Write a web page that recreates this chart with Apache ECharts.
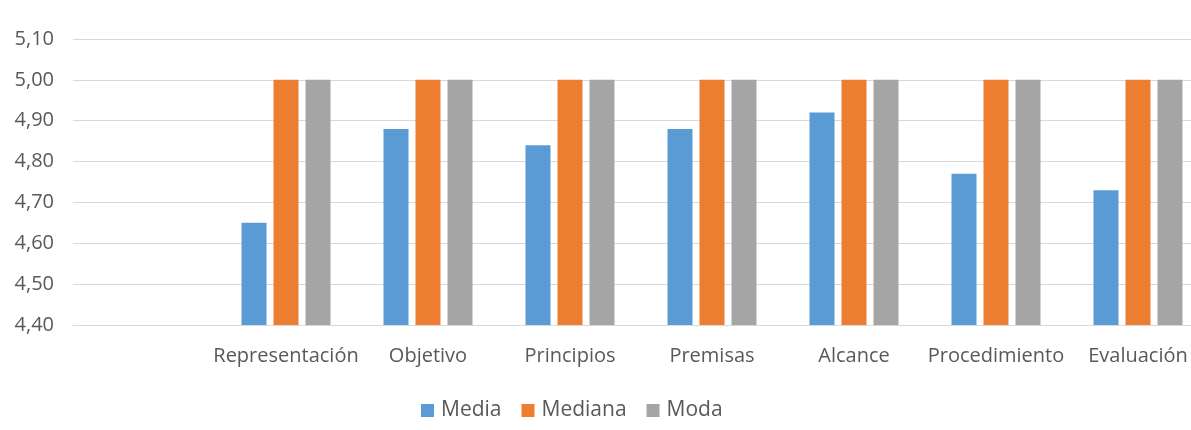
<!DOCTYPE html>
<html>
<head>
<meta charset="utf-8">
<script src="https://cdn.jsdelivr.net/npm/echarts@6/dist/echarts.min.js"></script>
<style>
  html, body { margin: 0; padding: 0; background: #ffffff; overflow: hidden; }
  /* the plot runs a little past the right edge of the window */
  #chart { width: 1212px; height: 430px; }
</style>
</head>
<body>
<div id="chart"></div>
<script>
// Categories (the first slot is left blank on purpose)
const categories = ['', 'Representación', 'Objetivo', 'Principios', 'Premisas', 'Alcance', 'Procedimiento', 'Evaluación'];
const media   = [null, 4.65, 4.88, 4.84, 4.88, 4.92, 4.77, 4.73];
const mediana = [null, 5.00, 5.00, 5.00, 5.00, 5.00, 5.00, 5.00];
const moda    = [null, 5.00, 5.00, 5.00, 5.00, 5.00, 5.00, 5.00];
const seriesNames = ['Media', 'Mediana', 'Moda'];
const colors = ['#5B9BD5', '#ED7D31', '#A5A5A5'];

const FONT = 'Open Sans';
const TEXT = '#595959';

const chart = echarts.init(document.getElementById('chart'), null, { renderer: 'canvas' });

const values = [media, mediana, moda];
chart.setOption({
  animation: false,
  backgroundColor: '#ffffff',
  color: colors,
  textStyle: { fontFamily: FONT },
  grid: { left: 73, top: 39, width: 1136, bottom: 105, containLabel: false },
  legend: {
    left: 416,
    top: 395,
    itemWidth: 13,
    itemHeight: 13,
    itemGap: 20,
    icon: 'rect',
    textStyle: { fontFamily: FONT, fontSize: 21, color: TEXT, padding: [0, 0, 0, 2] },
    data: seriesNames
  },
  xAxis: {
    type: 'category',
    data: categories,
    axisLine: { lineStyle: { color: '#D9D9D9', width: 1 } },
    axisTick: { show: false },
    axisLabel: { fontFamily: FONT, fontSize: 20, color: TEXT, margin: 21, interval: 0 }
  },
  yAxis: {
    type: 'value',
    min: 4.4,
    max: 5.1,
    interval: 0.1,
    axisLine: { show: false },
    axisTick: { show: false },
    splitLine: { lineStyle: { color: '#D9D9D9', width: 1 } },
    axisLabel: {
      fontFamily: FONT, fontSize: 20, color: TEXT, margin: 19,
      formatter: v => v.toFixed(2).replace('.', ',')
    }
  },
  series: seriesNames.map((name, i) => ({
    name,
    type: 'bar',
    data: values[i],
    barWidth: 25,
    barGap: '28%',
    itemStyle: { color: colors[i] }
  }))
});
</script>
</body>
</html>
